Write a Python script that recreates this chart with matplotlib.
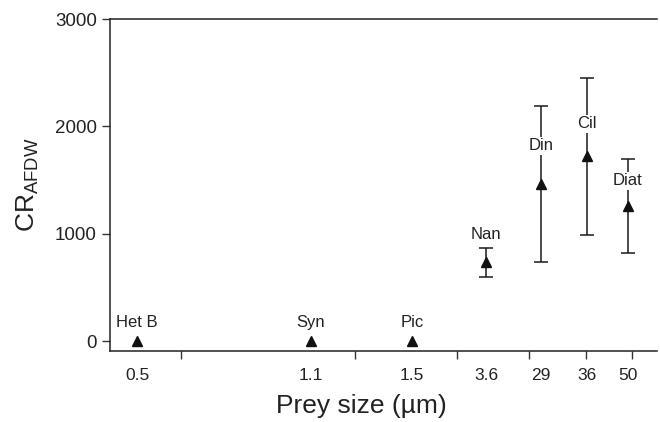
import matplotlib
matplotlib.use("Agg")
import matplotlib.pyplot as plt
import numpy as np

plt.rcParams['font.family'] = ['Liberation Sans', 'DejaVu Sans']
plt.rcParams['mathtext.default'] = 'regular'

# Data
categories = ["Het B", "Syn", "Pic", "Nan", "Din", "Cil", "Diat"]
size_labels = ["0.5", "1.1", "1.5", "3.6", "29", "36", "50"]
cr_mean = [0, 0, 0, 733, 1463, 1724, 1258]
cr_upper = [0, 0, 0, 864, 2193, 2453, 1693]
cr_lower = [0, 0, 0, 599, 736, 990, 820]

# Layout (axis positions of the uneven categorical axis)
x_pos = [27, 201, 302, 376, 431, 477, 518]
minor_pos = [71, 245, 347, 419, 476, 522]
label_y = [168, 168, 168, 988, 1817, 2022, 1491]

fig = plt.figure(figsize=(6.6, 4.22), dpi=100)
ax = fig.add_axes([110/660, 71/422, 547/660, 332/422])

yerr = [np.array(cr_mean) - np.array(cr_lower), np.array(cr_upper) - np.array(cr_mean)]
for i in range(len(categories)):
    if cr_upper[i] > cr_mean[i]:
        ax.errorbar(x_pos[i], cr_mean[i], yerr=[[yerr[0][i]], [yerr[1][i]]],
                    fmt='none', ecolor='#1a1a1a', elinewidth=1.1, capsize=5, capthick=1.1, zorder=2)
ax.plot(x_pos, cr_mean, linestyle='none', marker='^', markersize=7,
        color='#111111', zorder=4)

for i, name in enumerate(categories):
    ax.text(x_pos[i], label_y[i], name, ha='center', va='center', fontsize=12,
            color='#222222', zorder=3,
            bbox=dict(facecolor='white', edgecolor='none', pad=1.0))

ax.set_xlim(0, 547)
ax.set_ylim(-93, 3000)
ax.set_yticks([0, 1000, 2000, 3000])
ax.set_yticklabels(["0", "1000", "2000", "3000"])
ax.set_xticks(x_pos)
ax.set_xticklabels(size_labels)
ax.set_xticks(minor_pos, minor=True)
ax.tick_params(axis='x', which='major', length=0, pad=12, labelsize=12.5, colors='#222222')
ax.tick_params(axis='x', which='minor', length=6, width=1, color='#333333')
ax.tick_params(axis='y', which='major', length=6, width=1, labelsize=13.5, colors='#222222', color='#333333')

ax.spines['right'].set_visible(False)
for s in ['left', 'top', 'bottom']:
    ax.spines[s].set_linewidth(1.1)
    ax.spines[s].set_color('#222222')

ax.set_xlabel("Prey size (µm)", fontsize=19, color='#222222', labelpad=6)
ax.xaxis.set_label_coords(0.46, -0.13)
ax.set_ylabel(r"CR$_{AFDW}$", fontsize=19, color='#222222', labelpad=10)

fig.savefig("out.png", dpi=100)
